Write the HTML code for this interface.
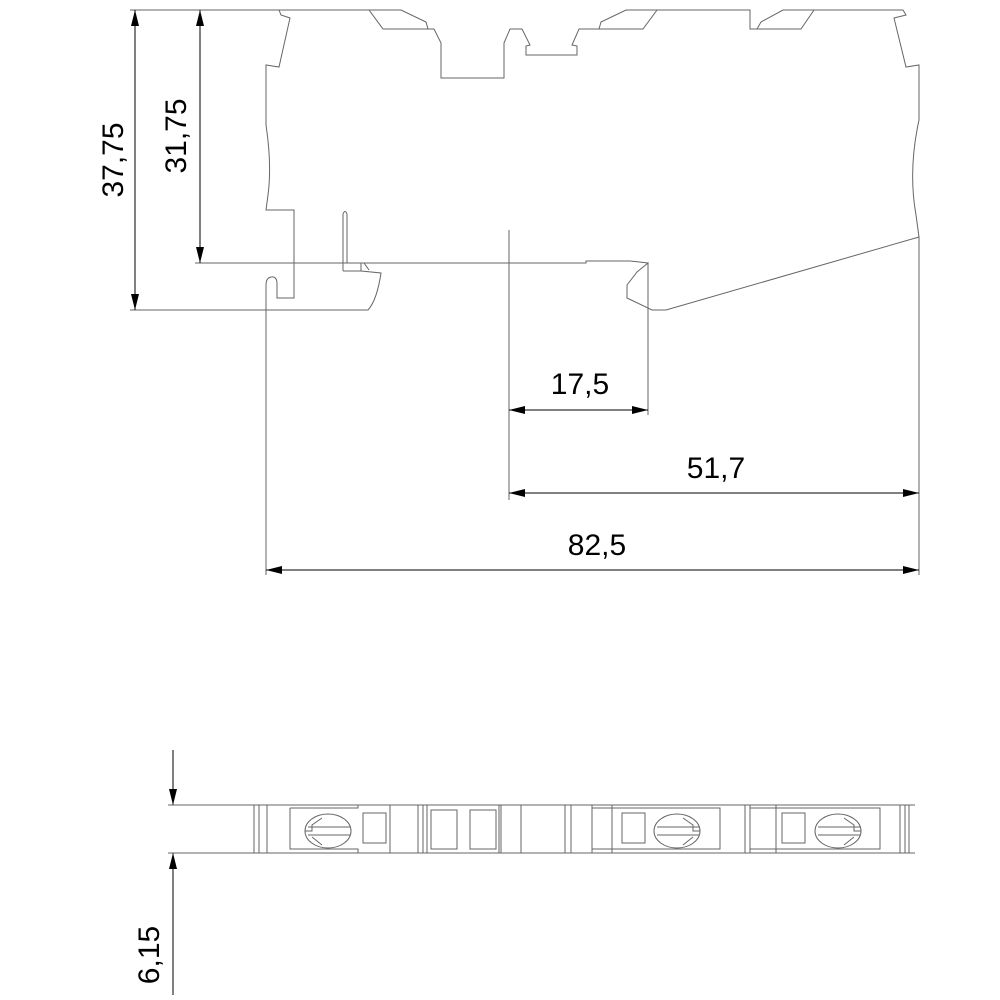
<!DOCTYPE html>
<html><head><meta charset="utf-8"><style>
html,body{margin:0;padding:0;background:#fff;}
svg{display:block;}
text{font-family:"Liberation Sans",sans-serif;font-size:30px;fill:#000;}
</style></head><body>
<svg width="1000" height="1000" viewBox="0 0 1000 1000" xmlns="http://www.w3.org/2000/svg">
<defs>
<marker id="a" markerWidth="16" markerHeight="8" refX="16" refY="4" orient="auto" markerUnits="userSpaceOnUse">
<path d="M0,0 L16,4 L0,8 Z" fill="#000"/></marker>
</defs>
<g fill="none" stroke="#666" stroke-width="1">
<path d="M130,10 L279,10 L281,15 L290,18 L279,67 L266,65 L266,125 Q272,165 268,195 L266,210 L294,210 L294,298 L277,298 L277,284 Q277,276 271,277 Q266,278 266,285 L266,575"/>
<path d="M279,10 L369,10 L383,29 L434,29 L441,43 L441,78 L504,78 L504,43 L510,29 L522,29 L530,45 L526,46 L526,55 L577,55 L577,46 L572,45 L579,29 L599,29 L601,22 L626,10 L657,10 L643,29 L599,29"/>
<path d="M369,10 L401,10 L426,22 L428,29"/>
<path d="M657,10 L750,10 L750,29 L757,29 L761,22 L783,10 L814,10 L801,29 L750,29"/>
<path d="M814,10 L903,10 L906,15 L894,18 L906,67 L919,65 L919,120 Q908,170 916,215 L919,237 L919,575"/>
<path d="M343,271 L343,214 Q345,209 347,214 L347,263"/>
<path d="M343,271 L361,271 L381,273 Q377,300 368,310 L130,310"/>
<path d="M361,263 L361,271 M364,263 L369,270"/>
<path d="M195,263 L586,263 L586,261 L630,261 L648,263 L637,272 L627,285 L627,298 L652,310 L666,310 L919,237"/>
<path d="M509,230 L509,500 M648,263 L648,415"/>
</g>
<g stroke="#000" stroke-width="1" fill="none">
<line x1="135" y1="292" x2="135" y2="10" marker-end="url(#a)"/>
<line x1="135" y1="28" x2="135" y2="310" marker-end="url(#a)"/>
<line x1="200" y1="245" x2="200" y2="10" marker-end="url(#a)"/>
<line x1="200" y1="28" x2="200" y2="263" marker-end="url(#a)"/>
<line x1="630" y1="410" x2="509" y2="410" marker-end="url(#a)"/>
<line x1="527" y1="410" x2="648" y2="410" marker-end="url(#a)"/>
<line x1="900" y1="493" x2="509" y2="493" marker-end="url(#a)"/>
<line x1="527" y1="493" x2="919" y2="493" marker-end="url(#a)"/>
<line x1="900" y1="570" x2="266" y2="570" marker-end="url(#a)"/>
<line x1="284" y1="570" x2="919" y2="570" marker-end="url(#a)"/>
<line x1="173" y1="750" x2="173" y2="805" marker-end="url(#a)"/>
<line x1="173" y1="995" x2="173" y2="853" marker-end="url(#a)"/>
</g>
<text x="0" y="0" transform="translate(123,160) rotate(-90)" text-anchor="middle">37,75</text>
<text x="0" y="0" transform="translate(186,136) rotate(-90)" text-anchor="middle">31,75</text>
<text x="580" y="394" text-anchor="middle">17,5</text>
<text x="716" y="478" text-anchor="middle">51,7</text>
<text x="597" y="555" text-anchor="middle">82,5</text>
<text x="0" y="0" transform="translate(159,955) rotate(-90)" text-anchor="middle">6,15</text>
<g fill="none" stroke="#666" stroke-width="1">
<path d="M168,805 L915,805 M168,853 L915,853"/>
<path d="M254,805V853 M259,805V853 M267,805V853 M418,805V853 M423,805V853 M427,805V853 M499,805V853 M501,805V853 M521,805V853 M565,805V853 M571,805V853 M592,805V853 M745,805V853 M750,805V853 M900,805V853 M905,805V853 M909,805V853 M390,805V853 M612,805V853 M776,805V853"/>
<path d="M290,808 H358 V805 M290,808 V849 H358 V853"/>
<rect x="363" y="813" width="23" height="30"/>
<ellipse cx="328" cy="831" rx="23" ry="17"/>
<path d="M308,827 H350 M308,835 H350 M305,831 H312 V825 L322,818 M312,837 L322,845"/>
<rect x="431" y="810" width="26" height="39"/>
<rect x="470" y="810" width="26" height="39"/>
<path d="M592,808 H720 V849 H592"/>
<rect x="622" y="813" width="23" height="30"/>
<ellipse cx="677" cy="831" rx="23" ry="17"/>
<path d="M657,827 H699 M657,835 H699 M700,831 H693 V825 L683,818 M693,837 L683,845"/>
<path d="M750,808 H880 V849 H750"/>
<rect x="782" y="813" width="23" height="30"/>
<ellipse cx="838" cy="831" rx="23" ry="17"/>
<path d="M818,827 H860 M818,835 H860 M861,831 H854 V825 L844,818 M854,837 L844,845"/>
</g>
</svg>
</body></html>
